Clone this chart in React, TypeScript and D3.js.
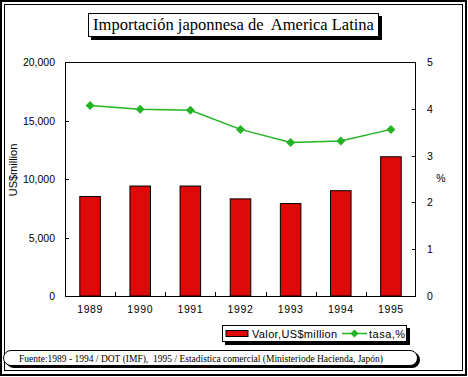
import React from "react";
import * as d3 from "d3";

const years = ["1989", "1990", "1991", "1992", "1993", "1994", "1995"];
const valor = [8500, 9400, 9400, 8300, 7900, 9000, 11900];
const tasa = [4.07, 3.99, 3.97, 3.56, 3.28, 3.31, 3.56];
const leftTicks = [0, 5000, 10000, 15000, 20000];
const rightTicks = [0, 1, 2, 3, 4, 5];

const W = 468;
const H = 377;
const M = { left: 65, right: 416, top: 62, bottom: 296 };
const SANS = "'Liberation Sans', Arial, sans-serif";
const SERIF = "'Liberation Serif', 'DejaVu Serif', serif";
const RED = "#de0a0a";
const GREEN = "#22b422";

export default function App() {
  const x = d3.scaleBand<string>().domain(years).range([M.left, M.right]).paddingInner(0).paddingOuter(0);
  const yL = d3.scaleLinear().domain([0, 20000]).range([M.bottom, M.top]);
  const yR = d3.scaleLinear().domain([0, 5]).range([M.bottom, M.top]);
  const bw = x.bandwidth() * 0.41;
  const fmt = d3.format(",");
  const line = d3
    .line<number>()
    .x((_, i) => (x(years[i]) as number) + x.bandwidth() / 2)
    .y((d) => yR(d));

  return (
    <svg
      width={W}
      height={H}
      style={{ position: "absolute", left: 0, top: 0, background: "#fff" }}
    >
      {/* outer frames */}
      <rect x={1} y={1} width={465} height={374} fill="none" stroke="#000" strokeWidth={2} />
      <rect x={4.5} y={4.5} width={458} height={366} fill="none" stroke="#000" strokeWidth={1} />

      {/* title */}
      <rect x={91} y={16} width={291} height={24} fill="#000" />
      <rect x={88.5} y={13.5} width={290} height={23} fill="#fff" stroke="#000" strokeWidth={1} />
      <text x={233.5} y={30} textAnchor="middle" fontFamily={SERIF} fontSize={16.5} fill="#000" style={{ whiteSpace: "pre" }}>
        Importación japonnesa de  America Latina
      </text>

      {/* bars */}
      {valor.map((v, i) => (
        <rect
          key={years[i]}
          x={(x(years[i]) as number) + x.bandwidth() / 2 - bw / 2}
          y={yL(v)}
          width={bw}
          height={yL(0) - yL(v)}
          fill={RED}
          stroke="#000"
          strokeWidth={1}
        />
      ))}

      {/* plot frame */}
      <rect x={M.left + 0.5} y={M.top + 0.5} width={M.right - M.left - 1} height={M.bottom - M.top} fill="none" stroke="#000" strokeWidth={1} />

      {/* left ticks */}
      {leftTicks.map((t) => (
        <g key={"l" + t}>
          <line x1={M.left} x2={M.left + 4} y1={Math.round(yL(t)) + 0.5} y2={Math.round(yL(t)) + 0.5} stroke="#000" />
          <text x={55} y={yL(t) + 4} textAnchor="end" fontFamily={SANS} fontSize={10.5} fill="#000">
            {fmt(t)}
          </text>
        </g>
      ))}
      {/* right ticks */}
      {rightTicks.map((t) => (
        <g key={"r" + t}>
          <line x1={M.right - 4} x2={M.right} y1={Math.round(yR(t)) + 0.5} y2={Math.round(yR(t)) + 0.5} stroke="#000" />
          <text x={427} y={yR(t) + 4} textAnchor="start" fontFamily={SANS} fontSize={10.5} fill="#000">
            {t}
          </text>
        </g>
      ))}
      {/* x ticks */}
      {years.slice(1).map((yv) => (
        <line key={"xt" + yv} x1={Math.round(x(yv) as number) + 0.5} x2={Math.round(x(yv) as number) + 0.5} y1={M.bottom} y2={M.bottom - 4} stroke="#000" />
      ))}
      {years.map((yv) => (
        <text key={"xl" + yv} x={(x(yv) as number) + x.bandwidth() / 2} y={313} textAnchor="middle" fontFamily={SANS} fontSize={10.5} letterSpacing={0.6} fill="#000">
          {yv}
        </text>
      ))}

      {/* axis titles */}
      <text transform="translate(17,170) rotate(-90)" textAnchor="middle" fontFamily={SANS} fontSize={11} fill="#000">
        US$million
      </text>
      <text x={441} y={182} textAnchor="middle" fontFamily={SANS} fontSize={10.5} fill="#000">
        %
      </text>

      {/* line */}
      <path d={line(tasa) as string} fill="none" stroke={GREEN} strokeWidth={1.5} />
      {tasa.map((v, i) => {
        const cx = (x(years[i]) as number) + x.bandwidth() / 2;
        const cy = yR(v);
        return (
          <path key={"m" + i} d={`M${cx},${cy - 4.5}L${cx + 4.5},${cy}L${cx},${cy + 4.5}L${cx - 4.5},${cy}Z`} fill={GREEN} />
        );
      })}

      {/* legend */}
      <rect x={225} y={328} width={185} height={17} fill="#000" />
      <rect x={222.5} y={325.5} width={184} height={16} fill="#fff" stroke="#000" strokeWidth={1} />
      <rect x={226} y={330.5} width={22} height={6} fill={RED} stroke="#000" strokeWidth={1} />
      <text x={252} y={338} fontFamily={SANS} fontSize={11} letterSpacing={0.35} fill="#000">
        Valor,US$million
      </text>
      <line x1={342} x2={367} y1={333.5} y2={333.5} stroke={GREEN} strokeWidth={1.5} />
      <path d="M354.5,329.5L358.5,333.5L354.5,337.5L350.5,333.5Z" fill={GREEN} />
      <text x={369} y={338} fontFamily={SANS} fontSize={11} letterSpacing={0.5} fill="#000">
        tasa,%
      </text>

      {/* footnote */}
      <rect x={6} y={352} width={414} height={16} rx={8} ry={8} fill="#000" />
      <rect x={3.5} y={350.5} width={414} height={15} rx={7.5} ry={7.5} fill="#fff" stroke="#000" strokeWidth={1} />
      <text x={19} y={362} fontFamily={SERIF} fontSize={11} fill="#000" textLength={364} lengthAdjust="spacingAndGlyphs" style={{ whiteSpace: "pre" }}>
        Fuente:1989 - 1994 / DOT (IMF),  1995 / Estadística comercial (Ministeriode Hacienda, Japón)
      </text>
    </svg>
  );
}
